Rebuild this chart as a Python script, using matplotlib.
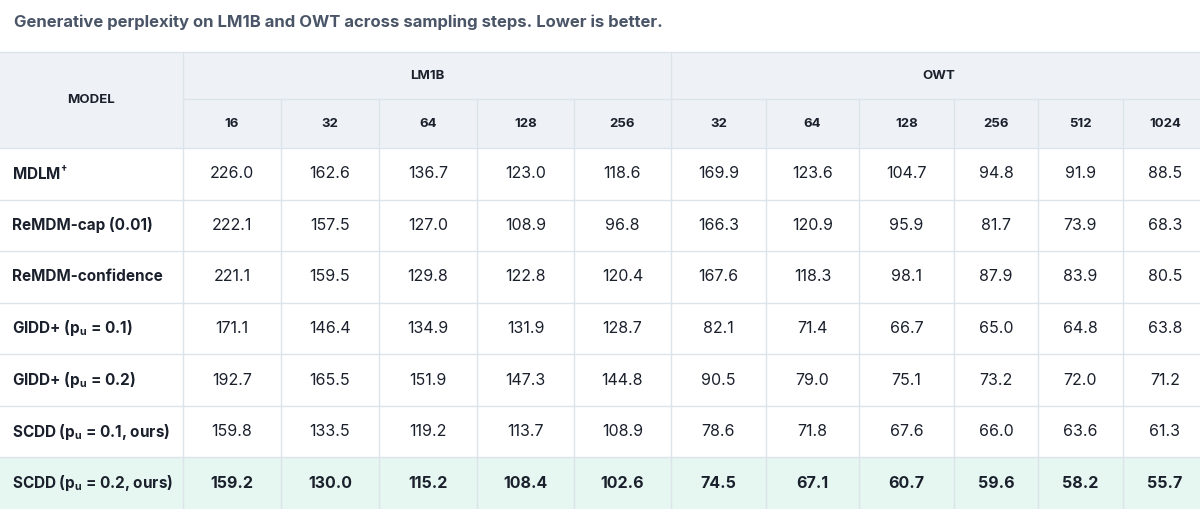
import matplotlib
matplotlib.use("Agg")
import matplotlib.pyplot as plt
from matplotlib.patches import Rectangle

plt.rcParams["font.family"] = ["Inter", "DejaVu Sans"]
plt.rcParams["mathtext.fontset"] = "custom"
plt.rcParams["mathtext.rm"] = "Inter"
plt.rcParams["mathtext.bf"] = "Inter:bold"

title = "Generative perplexity on LM1B and OWT across sampling steps. Lower is better."
lm1b_steps = ["16", "32", "64", "128", "256"]
owt_steps = ["32", "64", "128", "256", "512", "1024"]
models = [r"MDLM$^{\mathbf{\dagger}}$", "ReMDM-cap (0.01)", "ReMDM-confidence",
          r"GIDD+ ($\mathbf{p_u}$ = 0.1)", r"GIDD+ ($\mathbf{p_u}$ = 0.2)",
          r"SCDD ($\mathbf{p_u}$ = 0.1, ours)", r"SCDD ($\mathbf{p_u}$ = 0.2, ours)"]
values = [
    [226.0, 162.6, 136.7, 123.0, 118.6, 169.9, 123.6, 104.7, 94.8, 91.9, 88.5],
    [222.1, 157.5, 127.0, 108.9, 96.8, 166.3, 120.9, 95.9, 81.7, 73.9, 68.3],
    [221.1, 159.5, 129.8, 122.8, 120.4, 167.6, 118.3, 98.1, 87.9, 83.9, 80.5],
    [171.1, 146.4, 134.9, 131.9, 128.7, 82.1, 71.4, 66.7, 65.0, 64.8, 63.8],
    [192.7, 165.5, 151.9, 147.3, 144.8, 90.5, 79.0, 75.1, 73.2, 72.0, 71.2],
    [159.8, 133.5, 119.2, 113.7, 108.9, 78.6, 71.8, 67.6, 66.0, 63.6, 61.3],
    [159.2, 130.0, 115.2, 108.4, 102.6, 74.5, 67.1, 60.7, 59.6, 58.2, 55.7],
]
highlight = 6

# layout in pixels
W, H = 1200, 509
col_edges = [0, 183, 281, 379, 477, 574, 671, 766, 859, 954, 1038, 1123, 1207]
top, h1, h2 = 52, 99, 148
row_h = (H - h2) / len(models)
line_c = "#dde3ea"
head_bg = "#eef2f6"
text_c = "#1a202c"

fig = plt.figure(figsize=(W / 100, H / 100), dpi=100)
ax = fig.add_axes([0, 0, 1, 1])
ax.set_xlim(0, W)
ax.set_ylim(H, 0)
ax.axis("off")

ax.text(14, 22, title, fontsize=12, fontweight="bold", color="#4a5568", va="center")

ax.add_patch(Rectangle((0, top), W, h2 - top, color=head_bg, lw=0))
ax.add_patch(Rectangle((0, h2 + highlight * row_h), W, row_h, color="#e6f6f0", lw=0))

# header
hs = 9.5
ax.text(col_edges[1] / 2, (top + h2) / 2, "MODEL", fontsize=hs, fontweight="bold",
        color=text_c, ha="center", va="center")
ax.text((col_edges[1] + col_edges[6]) / 2, (top + h1) / 2, "LM1B", fontsize=hs,
        fontweight="bold", color=text_c, ha="center", va="center")
ax.text((col_edges[6] + col_edges[-1]) / 2, (top + h1) / 2, "OWT", fontsize=hs,
        fontweight="bold", color=text_c, ha="center", va="center")
steps = lm1b_steps + owt_steps
for j, s in enumerate(steps):
    cx = (col_edges[j + 1] + col_edges[j + 2]) / 2
    ax.text(cx, (h1 + h2) / 2, s, fontsize=hs, fontweight="bold", color=text_c,
            ha="center", va="center")

# body
for i, (m, row) in enumerate(zip(models, values)):
    cy = h2 + (i + 0.5) * row_h
    ax.text(12, cy, m, fontsize=11, fontweight="bold", color=text_c, va="center")
    for j, v in enumerate(row):
        cx = (col_edges[j + 1] + col_edges[j + 2]) / 2
        ax.text(cx, cy, f"{v:.1f}", fontsize=11.5, color=text_c, ha="center", va="center",
                fontweight="bold" if i == highlight else "normal")

# grid lines
lw = 1.0
ax.plot([0, W], [top, top], color=line_c, lw=lw)
ax.plot([col_edges[1], W], [h1, h1], color=line_c, lw=lw)
for i in range(len(models)):
    y = h2 + i * row_h
    ax.plot([0, W], [y, y], color=line_c, lw=lw)
ax.plot([col_edges[1]] * 2, [top, H], color=line_c, lw=lw)
ax.plot([col_edges[6]] * 2, [top, H], color=line_c, lw=lw)
for x in col_edges[2:-1]:
    if x != col_edges[6]:
        ax.plot([x, x], [h1, H], color=line_c, lw=lw)

fig.savefig("out.png", dpi=100)
